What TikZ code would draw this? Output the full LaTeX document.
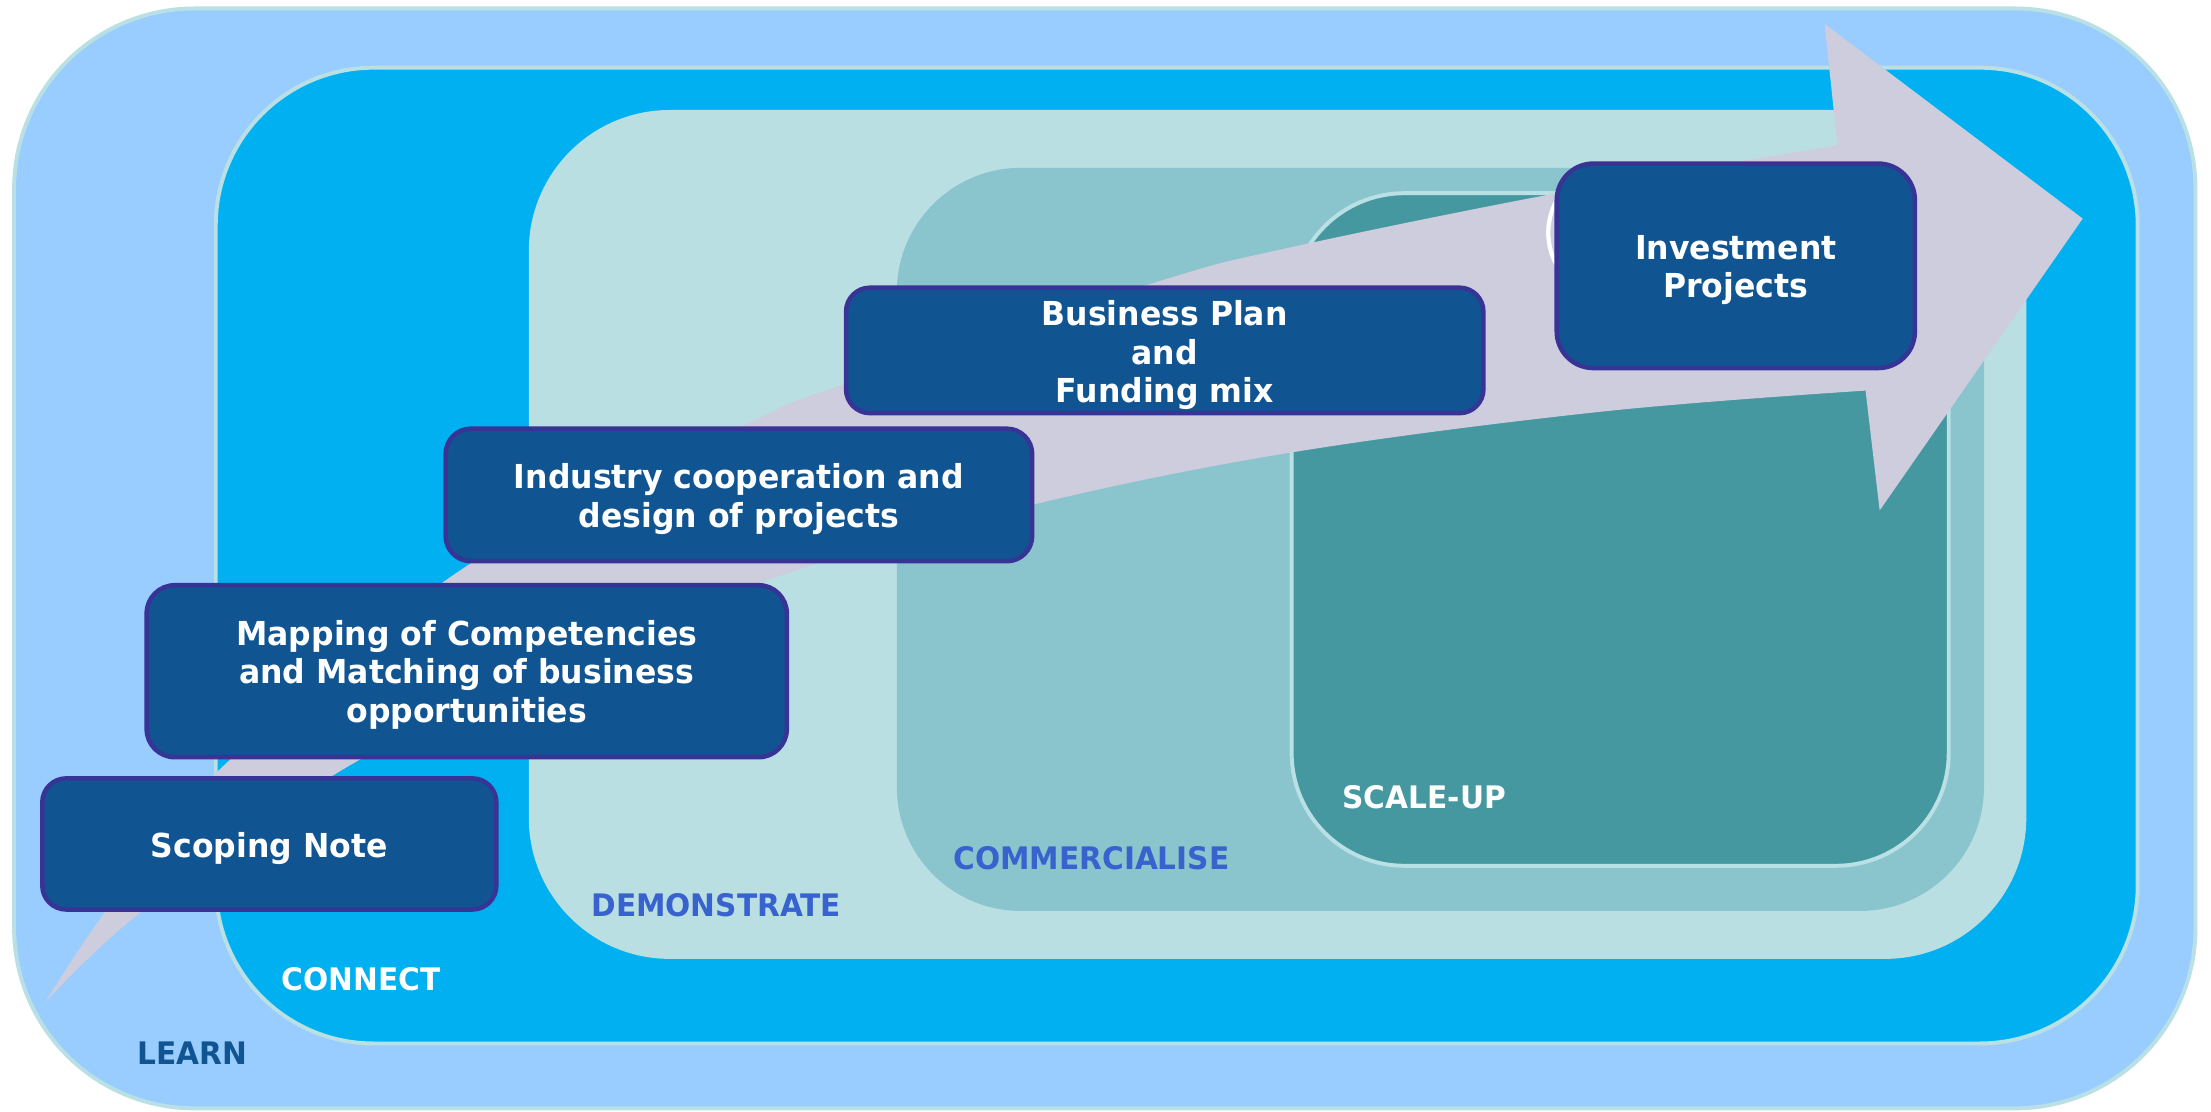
\documentclass[tikz,border=0pt]{standalone}
\usepackage{fontspec}
\newfontfamily\lblfont{DejaVu Sans}[FakeStretch=0.955]
\definecolor{learnc}{RGB}{153,204,255}
\definecolor{edgec}{RGB}{185,224,228}
\definecolor{connectc}{RGB}{0,176,240}
\definecolor{democ}{RGB}{185,223,227}
\definecolor{commc}{RGB}{138,196,205}
\definecolor{scalec}{RGB}{70,152,160}
\definecolor{arrowc}{RGB}{205,205,222}
\definecolor{boxfill}{RGB}{16,84,146}
\definecolor{boxline}{RGB}{55,52,150}
\definecolor{learntext}{RGB}{16,84,146}
\definecolor{midtext}{RGB}{56,98,206}
\begin{document}
\begin{tikzpicture}[x=0.5pt,y=-0.5pt,
  zoneedge/.style={draw=edgec,line width=1.4pt},
  stagebox/.style={draw=boxline,fill=boxfill,line width=1.6pt,inner sep=0pt},
  stagetext/.style={text=white,align=center,inner sep=0pt,
    font=\lblfont\bfseries\fontsize{11.7pt}{13.75pt}\selectfont},
  zonelabel/.style={font=\lblfont\bfseries\fontsize{11pt}{13pt}\selectfont,inner sep=0pt}]
\useasboundingbox (0,0) rectangle (1568,788);
% nested zones
\draw[zoneedge,fill=learnc,rounded corners=64pt] (10,6) rectangle (1557,786);
\draw[zoneedge,fill=connectc,rounded corners=56pt] (153,48) rectangle (1516,740);
\fill[democ,rounded corners=50pt] (375,78) rectangle (1437,680);
\fill[commc,rounded corners=44pt] (636,119) rectangle (1407,646);
\draw[zoneedge,fill=scalec,rounded corners=40pt] (916,137) rectangle (1382,614);
% big arrow
\fill[arrowc] plot[smooth,tension=0.6] coordinates {(32,711) (75,646) (148,553) (330,402) (525,303) (600,272) (817,201) (908,177) (1104,137) (1303,103)}
  -- (1294,17) -- (1477,155) -- (1333,362)
  -- plot[smooth,tension=0.6] coordinates {(1323,277) (1135,292) (915,321) (732,358) (560,406) (400,470) (246,544) (101,646) (32,711)} -- cycle;
% white ring behind the last box
\draw[white,line width=1.5pt] (1145,165) circle[radius=47];
% stage boxes
\node[stagebox,rounded corners=8.5pt,minimum width=161pt,minimum height=46.5pt] (scoping) at (191,598.5) {};
\node[stagebox,rounded corners=10pt,minimum width=227pt,minimum height=61pt] (mapping) at (331,476) {};
\node[stagebox,rounded corners=9pt,minimum width=208pt,minimum height=47pt] (industry) at (524,351) {};
\node[stagebox,rounded corners=8.5pt,minimum width=226pt,minimum height=44.5pt] (bplan) at (826,248.5) {};
\node[stagebox,rounded corners=13pt,minimum width=127pt,minimum height=72.5pt] (invest) at (1231,188.5) {};
\node[stagetext] (scopingtxt) at ([yshift=-1.5pt]scoping.center) {Scoping Note};
\node[stagetext] (mappingtxt) at ([yshift=-1.3pt]mapping.center) {Mapping of Competencies\\and Matching of business\\opportunities};
\node[stagetext] (industrytxt) at ([yshift=-1.5pt]industry.center) {Industry cooperation and\\design of projects};
\node[stagetext] (bplantxt) at ([yshift=-1.7pt]bplan.center) {Business Plan\\and\\Funding mix};
\node[stagetext] (investtxt) at ([yshift=-1.5pt]invest.center) {Investment\\Projects};
% zone labels
\node[zonelabel,text=learntext] (learn) at (136.5,747) {LEARN};
\node[zonelabel,text=white] (connect) at (256,694.5) {CONNECT};
\node[zonelabel,text=midtext] (demo) at (508,642) {DEMONSTRATE};
\node[zonelabel,text=midtext] (comm) at (774,608.5) {COMMERCIALISE};
\node[zonelabel,text=white] (scaleup) at (1010,565) {SCALE-UP};
\end{tikzpicture}
\end{document}
